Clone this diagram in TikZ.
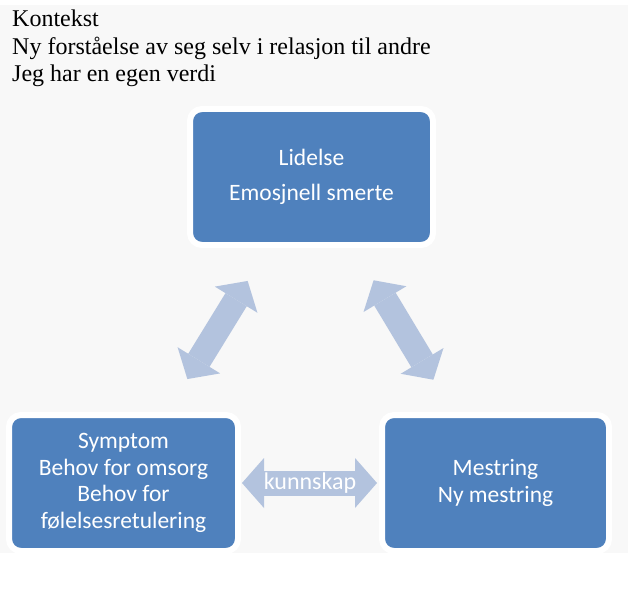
\documentclass[tikz,border=0pt]{standalone}
\usepackage{fontspec}
\setmainfont{Liberation Serif}
\newfontfamily\boxfont{Carlito}
\usetikzlibrary{arrows.meta}
\definecolor{boxblue}{HTML}{4F81BD}
\definecolor{arrowblue}{HTML}{B3C3DE}
\definecolor{paper}{HTML}{F8F8F8}

\begin{document}
\begin{tikzpicture}[x=1pt, y=-1pt,
    box/.style={fill=boxblue, draw=white, line width=6pt, rounded corners=12pt,
      text=white, align=center, inner sep=0pt, minimum height=136pt,
      font=\boxfont\fontsize{23.5}{26.5}\selectfont},
    bigarrow/.style={draw=arrowblue, line width=25pt,
      {Triangle[width=50pt,length=22pt,line width=0pt]}-{Triangle[width=50pt,length=22pt,line width=0pt]}},
    heading/.style={anchor=base west, inner sep=0pt, font=\fontsize{24}{27.6}\selectfont}]
      \useasboundingbox (0,0) rectangle (628,588);
      \fill[paper] (0,5) rectangle (628,553);

      \node[heading] (kontekst) at (12,27) {Kontekst};
      \node[heading] (forstaelse) at (12,54.5) {Ny forståelse av seg selv i relasjon til andre};
      \node[heading] (verdi) at (12,82) {Jeg har en egen verdi};

      \node[box, minimum width=243pt] (lidelse) at (311.5,177) {Lidelse\\[8.5pt]Emosjnell smerte};
      \node[box, minimum width=229pt] (symptom) at (123.5,483) {Symptom\\Behov for omsorg\\Behov for\\følelsesretulering};
      \node[box, minimum width=227pt] (mestring) at (495.5,483) {Mestring\\Ny mestring};

      \draw[bigarrow, shorten <=122pt, shorten >=122pt] (lidelse.center) -- (symptom.center);
      \draw[bigarrow, shorten <=120.5pt, shorten >=120.5pt] (lidelse.center) -- (mestring.center);
      \draw[bigarrow, shorten <=1pt, shorten >=2pt] (symptom) -- (mestring)
        node[midway, text=white, font=\boxfont\fontsize{24}{28}\selectfont] (kunnskap) {kunnskap};
\end{tikzpicture}
\end{document}
